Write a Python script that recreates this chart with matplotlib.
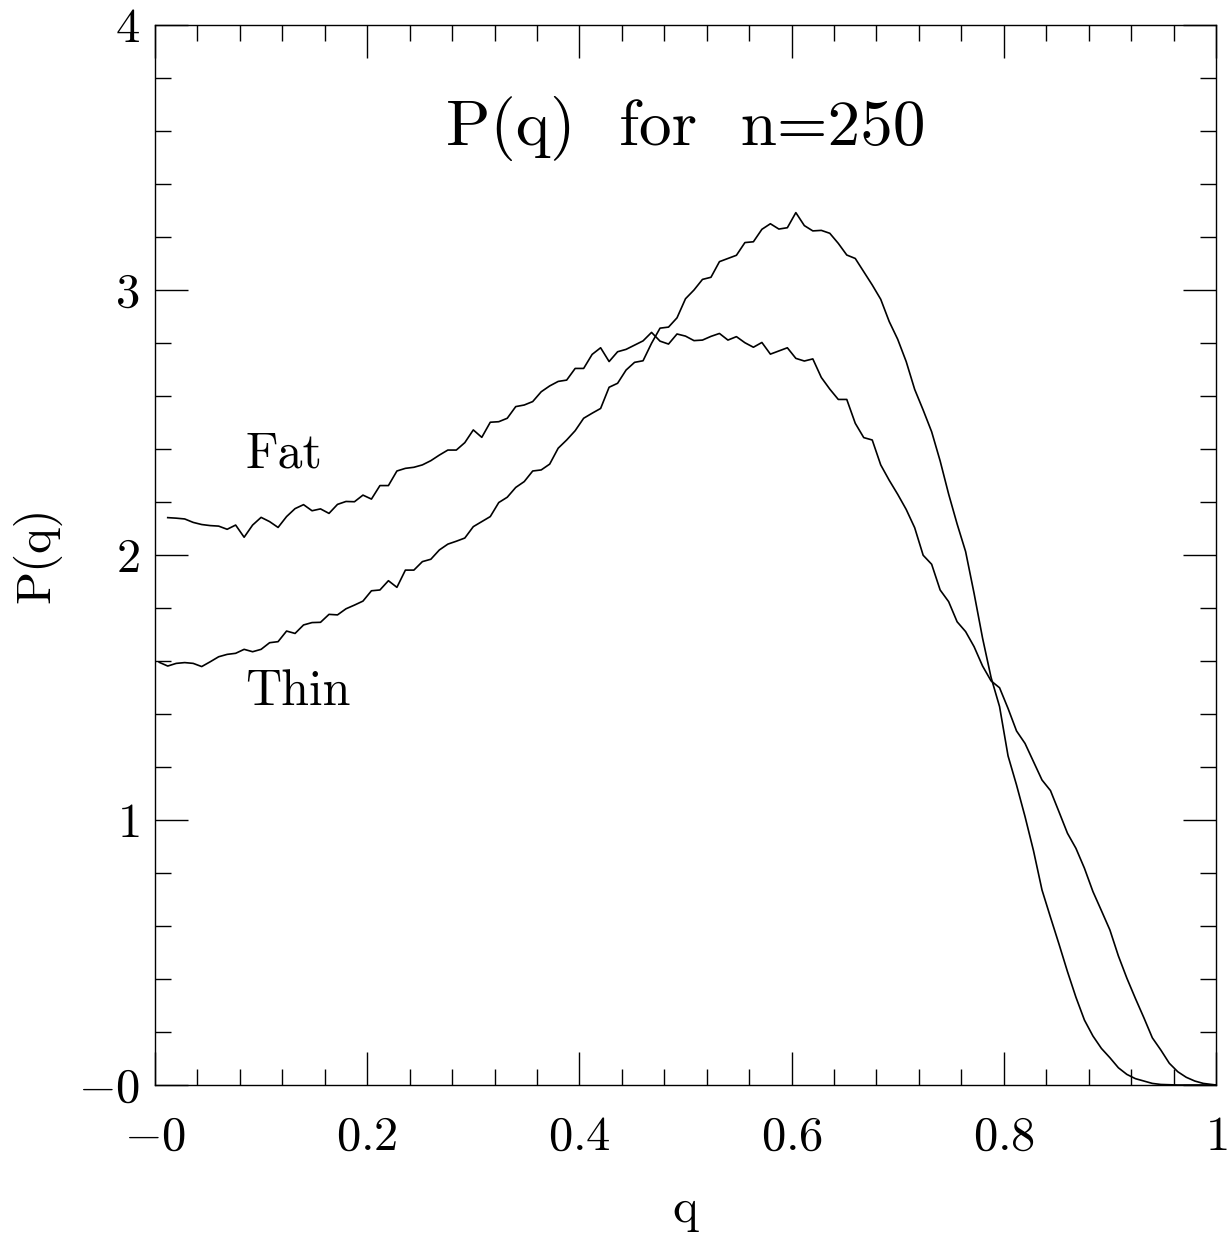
import numpy as np
import matplotlib
matplotlib.use("Agg")
import matplotlib.pyplot as plt
from matplotlib.ticker import MultipleLocator, FixedLocator, FixedFormatter

# bin centres q = (i+0.5)/125, plus the right end q = 1
n_bins = 125
q_thin = [(i + 0.5) / n_bins for i in range(n_bins)] + [1.0]
q_fat = q_thin[1:]

p_thin = [1.595, 1.581, 1.591, 1.594, 1.591, 1.579, 1.597, 1.616, 1.625, 1.629,
          1.644, 1.635, 1.644, 1.669, 1.673, 1.713, 1.704, 1.736, 1.745, 1.746,
          1.776, 1.774, 1.797, 1.811, 1.826, 1.865, 1.868, 1.903, 1.878, 1.943,
          1.943, 1.975, 1.984, 2.019, 2.041, 2.052, 2.064, 2.107, 2.126, 2.145,
          2.198, 2.218, 2.255, 2.277, 2.317, 2.321, 2.343, 2.403, 2.434, 2.469,
          2.516, 2.535, 2.553, 2.633, 2.648, 2.698, 2.727, 2.733, 2.799, 2.856,
          2.860, 2.895, 2.967, 3.000, 3.040, 3.048, 3.107, 3.119, 3.131, 3.179,
          3.182, 3.229, 3.250, 3.230, 3.235, 3.292, 3.243, 3.223, 3.225, 3.214,
          3.176, 3.132, 3.119, 3.069, 3.019, 2.965, 2.881, 2.814, 2.730, 2.625,
          2.547, 2.465, 2.355, 2.230, 2.117, 2.013, 1.855, 1.686, 1.538, 1.428,
          1.242, 1.132, 1.013, 0.884, 0.736, 0.633, 0.532, 0.428, 0.331, 0.245,
          0.185, 0.138, 0.103, 0.065, 0.040, 0.024, 0.015, 0.006, 0.002, 0.001,
          0.0, 0.0, 0.0, 0.0, 0.0, 0.0]

p_fat = [2.141, 2.139, 2.136, 2.123, 2.115, 2.111, 2.109, 2.097, 2.113,
         2.067, 2.113, 2.142, 2.126, 2.104, 2.145, 2.175, 2.190, 2.167, 2.174,
         2.157, 2.191, 2.202, 2.201, 2.226, 2.211, 2.262, 2.262, 2.317, 2.327,
         2.331, 2.340, 2.356, 2.377, 2.396, 2.396, 2.424, 2.472, 2.444, 2.501,
         2.503, 2.516, 2.560, 2.566, 2.579, 2.616, 2.638, 2.655, 2.660, 2.704,
         2.704, 2.757, 2.782, 2.730, 2.767, 2.776, 2.792, 2.808, 2.840, 2.807,
         2.796, 2.834, 2.826, 2.809, 2.811, 2.825, 2.836, 2.811, 2.824, 2.801,
         2.784, 2.802, 2.758, 2.770, 2.782, 2.742, 2.732, 2.740, 2.670, 2.626,
         2.587, 2.587, 2.497, 2.443, 2.434, 2.340, 2.282, 2.229, 2.172, 2.103,
         1.999, 1.965, 1.868, 1.824, 1.748, 1.711, 1.654, 1.581, 1.525, 1.499,
         1.421, 1.336, 1.289, 1.220, 1.151, 1.111, 1.031, 0.950, 0.893, 0.818,
         0.730, 0.658, 0.585, 0.487, 0.403, 0.327, 0.254, 0.178, 0.132, 0.082,
         0.050, 0.029, 0.015, 0.006, 0.002, 0.0]

x_ticks = [0, 0.2, 0.4, 0.6, 0.8, 1.0]
x_tick_labels = [r"$-0$", r"$0.2$", r"$0.4$", r"$0.6$", r"$0.8$", r"$1$"]
y_ticks = [0, 1, 2, 3, 4]
y_tick_labels = [r"$-0$", r"$1$", r"$2$", r"$3$", r"$4$"]

title_text = "P(q)  for  n=250"
label_fat = "Fat"
label_thin = "Thin"

plt.rcParams["font.family"] = ["cmr10", "DejaVu Serif"]
plt.rcParams["mathtext.fontset"] = "cm"
plt.rcParams["axes.formatter.use_mathtext"] = True

W, H = 1230, 1237
fig = plt.figure(figsize=(W / 100, H / 100), dpi=100)
ax = fig.add_axes([155 / W, 1 - 1085 / H, (1216 - 155) / W, (1085 - 25) / H])

ax.plot(q_thin, p_thin, color="black", lw=1.2)
ax.plot(q_fat, p_fat, color="black", lw=1.2)

ax.set_xlim(0, 1)
ax.set_ylim(0, 4)
ax.xaxis.set_major_locator(FixedLocator(x_ticks))
ax.xaxis.set_major_formatter(FixedFormatter(x_tick_labels))
ax.yaxis.set_major_locator(FixedLocator(y_ticks))
ax.yaxis.set_major_formatter(FixedFormatter(y_tick_labels))
ax.xaxis.set_minor_locator(MultipleLocator(0.04))
ax.yaxis.set_minor_locator(MultipleLocator(0.2))

for s in ax.spines.values():
    s.set_linewidth(1.0)
ax.tick_params(which="both", direction="in", top=True, right=True, width=1.0, colors="black")
ax.tick_params(which="major", length=23.5)
ax.tick_params(which="minor", length=11.8)
ax.tick_params(axis="x", which="major", pad=22, labelsize=35)
ax.tick_params(axis="y", which="major", pad=11, labelsize=35)

ax.text(0.5, 3.547, title_text, ha="center", va="baseline", fontsize=47)
ax.text(0.085, 2.332, label_fat, ha="left", va="baseline", fontsize=36)
ax.text(0.085, 1.434, label_thin, ha="left", va="baseline", fontsize=36)

fig.text(37 / W, 1 - 555 / H, "P(q)", rotation=90, ha="center", va="center", fontsize=35)
fig.text(685 / W, 1 - 1210 / H, "q", ha="center", va="center", fontsize=35)

fig.savefig("out.png", dpi=100, facecolor="white")
